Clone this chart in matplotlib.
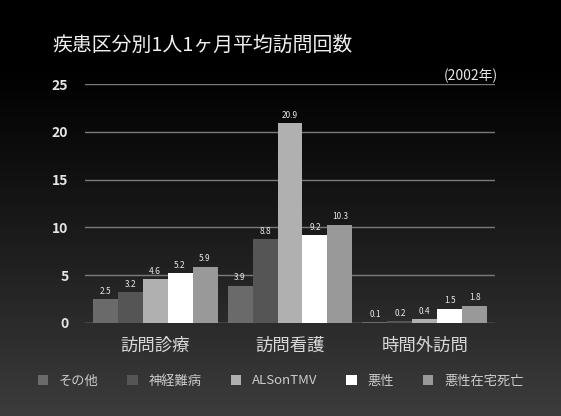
import numpy as np
import matplotlib
matplotlib.use("Agg")
import matplotlib.pyplot as plt
from matplotlib.patches import Patch

plt.rcParams['font.family'] = ['Noto Sans CJK JP', 'DejaVu Sans']

categories = ["訪問診療", "訪問看護", "時間外訪問"]
series_names = ["その他", "神経難病", "ALSonTMV", "悪性", "悪性在宅死亡"]
values = {
    "その他":       [2.5, 3.9, 0.1],
    "神経難病":     [3.2, 8.8, 0.2],
    "ALSonTMV":     [4.6, 20.9, 0.4],
    "悪性":         [5.2, 9.2, 1.5],
    "悪性在宅死亡": [5.9, 10.3, 1.8],
}
yticks = [0, 5, 10, 15, 20, 25]
colors = ["#6a6a6a", "#555555", "#b0b0b0", "#ffffff", "#999999"]

fig = plt.figure(figsize=(5.61, 4.16), dpi=100)

# vertical gradient background: black at top to dark gray at bottom
bg = fig.add_axes([0, 0, 1, 1], zorder=-10)
grad = np.linspace(0, 1, 256).reshape(-1, 1)
grad = np.clip((grad - 0.15) / 0.85, 0, 1) ** 1.1
bg.imshow(grad, aspect='auto', cmap=matplotlib.colors.LinearSegmentedColormap.from_list(
    "bg", ["#000000", "#3c3c3c"]), extent=[0, 1, 0, 1], origin='upper')
bg.set_axis_off()

ax = fig.add_axes([85 / 561, 1 - 323 / 416, 410 / 561, (323 - 84) / 416])
ax.set_facecolor("none")
ax.patch.set_alpha(0)

x = np.arange(len(categories))
width = 0.185
for i, (name, col) in enumerate(zip(series_names, colors)):
    offs = (i - 2) * width
    bars = ax.bar(x + offs, values[name], width=width, color=col, zorder=3,
                  edgecolor="none")
    for b, v in zip(bars, values[name]):
        ax.text(b.get_x() + b.get_width() / 2, v + 0.35, f"{v}",
                ha="center", va="bottom", fontsize=6, color="#e8e8e8", zorder=4)

ax.set_xlim(-0.52, 2.52)
ax.set_ylim(0, 25)
ax.set_yticks(yticks)
ax.set_yticklabels([str(t) for t in yticks], color="#e6e6e6", fontsize=10,
                   fontweight="bold")
ax.tick_params(axis='y', length=0, pad=12)
ax.set_xticks(x)
ax.set_xticklabels(categories, color="#d8d8d8", fontsize=12.5)
ax.tick_params(axis='x', length=0, pad=10)
for t in yticks:
    ax.axhline(t, color="#7a7a7a" if t else "#aaaaaa", lw=1.0, zorder=1)
for s in ax.spines.values():
    s.set_visible(False)

fig.text(52 / 561, 1 - 45 / 416, "疾患区分別1人1ヶ月平均訪問回数", fontsize=14.3,
         color="#f0f0f0", va="center", ha="left")
fig.text(498 / 561, 1 - 76 / 416, "(2002年)", fontsize=10, color="#e8e8e8",
         va="center", ha="right")

handles = [Patch(facecolor=c, edgecolor="none") for c in colors]
fig.legend(handles, series_names, loc="center", bbox_to_anchor=(0.5, 1 - 381 / 416),
           ncol=5, frameon=False, fontsize=9.5, labelcolor="#cccccc",
           handlelength=0.8, handleheight=0.8, handletextpad=0.8, columnspacing=2.2)

fig.savefig("out.png", dpi=100)
